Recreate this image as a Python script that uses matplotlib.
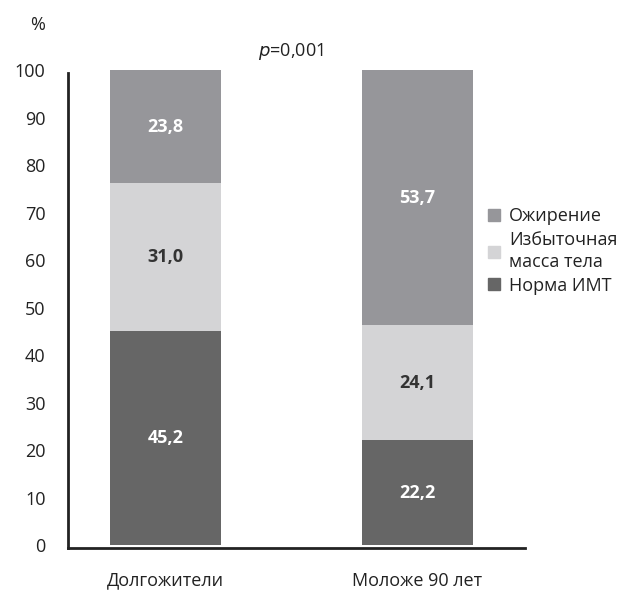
import numpy as np
import matplotlib.pyplot as plt
from matplotlib.patches import Patch

plt.rcParams['font.family'] = ['Open Sans', 'DejaVu Sans']

groups = ["Долгожители", "Моложе 90 лет"]
norma = [45.2, 22.2]
izb = [31.0, 24.1]
ozh = [23.8, 53.7]
series_names = ["Норма ИМТ", "Избыточная\nмасса тела", "Ожирение"]
colors = ["#666666", "#d4d4d6", "#96969a"]
text_colors = ["white", "#333333", "white"]
yticks = np.arange(0, 101, 10)

fig = plt.figure(figsize=(6.22, 5.9), dpi=100)
ax = fig.add_axes([0.109, 0.071, 0.735, 0.812])

x = np.arange(len(groups))
w = 0.44
bottom = np.zeros(len(groups))
for vals, c, tc in zip([norma, izb, ozh], colors, text_colors):
    vals = np.array(vals)
    ax.bar(x, vals, w, bottom=bottom, color=c, edgecolor="none")
    for xi, b, v in zip(x, bottom, vals):
        ax.text(xi, b + v / 2, f"{v:.1f}".replace(".", ","), ha="center", va="center",
                color=tc, fontsize=13, fontweight="bold")
    bottom += vals

ax.set_xlim(-0.387, 1.427)
ax.set_ylim(-0.6, 100.3)
ax.spines['top'].set_visible(False)
ax.spines['right'].set_visible(False)
ax.spines['bottom'].set_position(('data', -0.6))
ax.spines['left'].set_bounds(-0.6, 99.4)
for s in ['left', 'bottom']:
    ax.spines[s].set_linewidth(2)
    ax.spines[s].set_color("#222222")
ax.set_yticks(yticks)
ax.set_yticklabels([str(t) for t in yticks], fontsize=13, color="#222222")
ax.set_xticks(x)
ax.set_xticklabels(groups, fontsize=13, color="#222222")
ax.tick_params(axis='y', length=0, pad=16)
ax.tick_params(axis='x', length=0, pad=17)

fig.text(38 / 622, 1 - 25 / 590, "%", ha="center", va="center", fontsize=13, color="#222222")
fig.text(291 / 622, 1 - 52 / 590, r"$p$=0,001", ha="center", va="center", fontsize=13,
         color="#222222")

handles = [Patch(color=c) for c in colors[::-1]]
leg = fig.legend(handles, series_names[::-1], loc="center left",
                 bbox_to_anchor=(488 / 622, 1 - 251 / 590),
                 frameon=False, fontsize=13, handlelength=0.65, handleheight=0.65,
                 handletextpad=0.5, labelspacing=0.3, borderpad=0, borderaxespad=0,
                 labelcolor="#222222")
for t in leg.get_texts():
    t.set_linespacing(1.3)

fig.savefig("out.png", dpi=100)
